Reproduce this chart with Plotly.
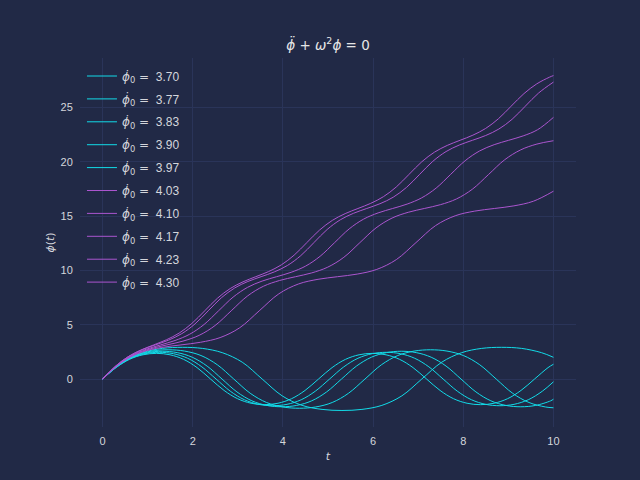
import plotly.graph_objects as go

labels = ["3.70", "3.77", "3.83", "3.90", "3.97", "4.03", "4.10", "4.17", "4.23", "4.30"]

t_370 = [0, 0.299, 0.599, 0.898, 1.198, 1.497, 1.796, 2.096, 2.395, 2.695, 2.994, 3.293, 3.593, 3.892, 4.192, 4.491, 4.790, 5.090, 5.389, 5.689, 5.988, 6.287, 6.587, 6.886, 7.186, 7.485, 7.784, 8.084, 8.383, 8.683, 8.982, 9.281, 9.581, 9.880, 10.0]
phi_370 = [0, 1.051, 1.813, 2.231, 2.363, 2.231, 1.813, 1.051, 0, -1.051, -1.813, -2.231, -2.363, -2.231, -1.813, -1.051, 0, 1.051, 1.813, 2.231, 2.363, 2.231, 1.813, 1.051, 0, -1.051, -1.813, -2.231, -2.363, -2.231, -1.813, -1.051, 0, 1.051, 1.36]

t_377 = [0, 0.315, 0.629, 0.944, 1.259, 1.573, 1.888, 2.203, 2.518, 2.832, 3.147, 3.462, 3.776, 4.091, 4.406, 4.720, 5.035, 5.350, 5.664, 5.979, 6.294, 6.608, 6.923, 7.238, 7.553, 7.867, 8.182, 8.497, 8.811, 9.126, 9.441, 9.755, 10.0]
phi_377 = [0, 1.118, 1.910, 2.332, 2.460, 2.332, 1.910, 1.118, 0, -1.118, -1.910, -2.332, -2.460, -2.332, -1.910, -1.118, 0, 1.118, 1.910, 2.332, 2.460, 2.332, 1.910, 1.118, 0, -1.118, -1.910, -2.332, -2.460, -2.332, -1.910, -1.118, -0.26]

t_383 = [0, 0.331, 0.663, 0.994, 1.325, 1.656, 1.988, 2.319, 2.650, 2.981, 3.313, 3.644, 3.975, 4.306, 4.638, 4.969, 5.300, 5.631, 5.963, 6.294, 6.625, 6.956, 7.288, 7.619, 7.950, 8.281, 8.613, 8.944, 9.275, 9.606, 9.938, 10.0]
phi_383 = [0, 1.190, 2.009, 2.431, 2.557, 2.431, 2.009, 1.190, 0, -1.190, -2.009, -2.431, -2.557, -2.431, -2.009, -1.190, 0, 1.190, 2.009, 2.431, 2.557, 2.431, 2.009, 1.190, 0, -1.190, -2.009, -2.431, -2.557, -2.431, -2.009, -1.86]

t_390 = [0, 0.364, 0.728, 1.091, 1.455, 1.819, 2.183, 2.546, 2.910, 3.274, 3.638, 4.001, 4.365, 4.729, 5.093, 5.456, 5.820, 6.184, 6.548, 6.911, 7.275, 7.639, 8.003, 8.366, 8.730, 9.094, 9.458, 9.821, 10.0]
phi_390 = [0, 1.309, 2.164, 2.574, 2.693, 2.574, 2.164, 1.309, 0, -1.309, -2.164, -2.574, -2.693, -2.574, -2.164, -1.309, 0, 1.309, 2.164, 2.574, 2.693, 2.574, 2.164, 1.309, 0, -1.309, -2.164, -2.574, -2.65]

t_397 = [0, 0.443, 0.885, 1.328, 1.770, 2.213, 2.655, 3.098, 3.540, 3.983, 4.425, 4.868, 5.310, 5.753, 6.195, 6.638, 7.080, 7.523, 7.965, 8.408, 8.850, 9.293, 9.735, 10.0]
phi_397 = [0, 1.549, 2.427, 2.820, 2.920, 2.820, 2.427, 1.549, 0, -1.549, -2.427, -2.799, -2.897, -2.799, -2.427, -1.549, 0, 1.549, 2.427, 2.820, 2.920, 2.820, 2.427, 2.0]

t_403 = [0, 0.434, 0.869, 1.303, 1.738, 2.172, 2.607, 3.041, 3.475, 3.910, 4.344, 4.779, 5.213, 5.648, 6.082, 6.516, 6.951, 7.385, 7.820, 8.254, 8.689, 9.123, 9.557, 10.0]
phi_403 = [0, 1.565, 2.469, 2.901, 3.142, 3.383, 3.815, 4.719, 6.283, 7.848, 8.752, 9.184, 9.425, 9.665, 10.097, 11.002, 12.566, 14.131, 15.035, 15.467, 15.708, 15.949, 16.381, 17.3]

t_410 = [0, 0.357, 0.714, 1.070, 1.427, 1.784, 2.141, 2.497, 2.854, 3.211, 3.568, 3.925, 4.281, 4.638, 4.995, 5.352, 5.708, 6.065, 6.422, 6.779, 7.136, 7.492, 7.849, 8.206, 8.563, 8.920, 9.276, 9.633, 10.0]
phi_410 = [0, 1.352, 2.262, 2.792, 3.142, 3.491, 4.021, 4.931, 6.283, 7.635, 8.545, 9.075, 9.425, 9.774, 10.304, 11.214, 12.566, 13.918, 14.828, 15.358, 15.708, 16.057, 16.587, 17.497, 18.850, 20.202, 21.112, 21.642, 21.95]

t_417 = [0, 0.322, 0.643, 0.965, 1.287, 1.608, 1.930, 2.252, 2.573, 2.895, 3.217, 3.538, 3.860, 4.182, 4.504, 4.825, 5.147, 5.469, 5.790, 6.112, 6.434, 6.755, 7.077, 7.399, 7.720, 8.042, 8.364, 8.685, 9.007, 9.329, 9.650, 10.0]
phi_417 = [0, 1.259, 2.163, 2.736, 3.142, 3.547, 4.120, 5.024, 6.283, 7.542, 8.446, 9.019, 9.425, 9.830, 10.403, 11.307, 12.566, 13.825, 14.729, 15.302, 15.708, 16.113, 16.686, 17.590, 18.850, 20.109, 21.013, 21.586, 21.991, 22.396, 22.969, 24.1]

t_423 = [0, 0.293, 0.586, 0.879, 1.172, 1.465, 1.758, 2.051, 2.344, 2.637, 2.930, 3.223, 3.516, 3.809, 4.102, 4.395, 4.688, 4.981, 5.274, 5.567, 5.860, 6.153, 6.446, 6.739, 7.032, 7.325, 7.618, 7.911, 8.204, 8.497, 8.790, 9.083, 9.376, 9.669, 10.0]
phi_423 = [0, 1.205, 2.103, 2.701, 3.142, 3.582, 4.180, 5.078, 6.283, 7.488, 8.386, 8.984, 9.425, 9.865, 10.463, 11.361, 12.566, 13.771, 14.669, 15.267, 15.708, 16.148, 16.746, 17.644, 18.850, 20.055, 20.953, 21.551, 21.991, 22.431, 23.029, 23.927, 25.133, 26.338, 27.35]

t_430 = [0, 0.283, 0.566, 0.850, 1.133, 1.416, 1.699, 1.982, 2.266, 2.549, 2.832, 3.115, 3.398, 3.682, 3.965, 4.248, 4.531, 4.814, 5.098, 5.381, 5.664, 5.947, 6.230, 6.514, 6.797, 7.080, 7.363, 7.646, 7.930, 8.213, 8.496, 8.779, 9.062, 9.346, 9.629, 9.912, 10.0]
phi_430 = [0, 1.160, 2.052, 2.670, 3.142, 3.613, 4.231, 5.123, 6.283, 7.443, 8.335, 8.953, 9.425, 9.896, 10.514, 11.406, 12.566, 13.726, 14.618, 15.236, 15.708, 16.179, 16.797, 17.689, 18.850, 20.010, 20.902, 21.520, 21.991, 22.462, 23.080, 23.972, 25.133, 26.293, 27.185, 27.803, 27.95]

series_t = [t_370, t_377, t_383, t_390, t_397, t_403, t_410, t_417, t_423, t_430]
series_phi = [phi_370, phi_377, phi_383, phi_390, phi_397, phi_403, phi_410, phi_417, phi_423, phi_430]

CYAN = "#12dbe8"
PURPLE = "#ab55cf"
BG = "#212946"
GRID = "#2A3459"
TEXT = "#d4d6dc"

fig = go.Figure()
for i, (lab, tt, pp) in enumerate(zip(labels, series_t, series_phi)):
    color = CYAN if float(lab) < 4 else PURPLE
    fig.add_trace(go.Scatter(
        x=tt, y=pp, mode="lines",
        line=dict(color=color, width=1, shape="spline", smoothing=1.0),
        name=("<span style=\"font-family:'DejaVu Sans'\"><i>\u03d5\u0307</i><sub>0</sub> =</span>"
              "\u00a0\u00a0" + lab),
        legendgroup="g%d" % i,
    ))

fig.update_layout(
    width=640, height=480,
    margin=dict(l=80, r=64, t=58, b=53),
    paper_bgcolor=BG, plot_bgcolor=BG,
    font=dict(family="Liberation Sans, Arial, sans-serif", size=11, color=TEXT),
    title=dict(
        text="<i>\u03d5\u0308</i> + <i>\u03c9</i><sup>2</sup><i>\u03d5</i> = 0",
        x=0.5, xref="paper", xanchor="center",
        y=1 - 45 / 480, yref="container", yanchor="middle",
        font=dict(family="DejaVu Sans", size=13.5, color="#e6e6e6"),
    ),
    showlegend=True,
    legend=dict(
        x=0.004, xanchor="left", y=0.9905, yanchor="top",
        bgcolor="rgba(0,0,0,0)", borderwidth=0,
        font=dict(family="Liberation Sans, Arial, sans-serif", size=12, color=TEXT),
        tracegroupgap=3.9, traceorder="grouped",
    ),
    xaxis=dict(
        range=[-0.5, 10.5], tickvals=[0, 2, 4, 6, 8, 10],
        showgrid=True, gridcolor=GRID, gridwidth=1, zeroline=False,
        showline=False, ticks="outside", ticklen=4, tickcolor="rgba(0,0,0,0)",
        title=dict(text="<i>t</i>", font=dict(family="DejaVu Sans", size=11, color=TEXT), standoff=6),
    ),
    yaxis=dict(
        range=[-4.42, 29.57], tickvals=[0, 5, 10, 15, 20, 25],
        showgrid=True, gridcolor=GRID, gridwidth=1, zeroline=False,
        showline=False, ticks="outside", ticklen=4, tickcolor="rgba(0,0,0,0)",
        title=dict(text="<i>\u03d5</i>(<i>t</i>)", font=dict(family="DejaVu Sans", size=11, color=TEXT), standoff=3),
    ),
)

fig.write_html("out.html")
